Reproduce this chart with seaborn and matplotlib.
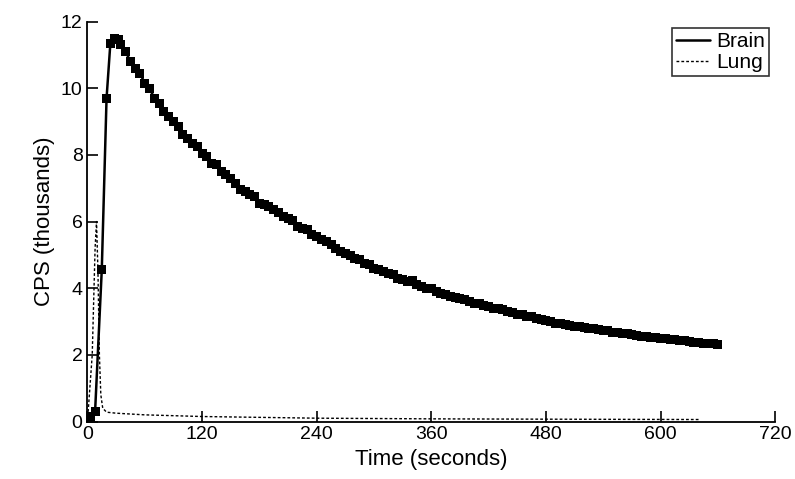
import matplotlib
matplotlib.use("Agg")
import matplotlib.pyplot as plt
import seaborn as sns
import pandas as pd

sns.set_style("ticks")
plt.rcParams['font.family'] = ['Liberation Sans', 'DejaVu Sans']
for k in ["text.color", "axes.labelcolor", "xtick.color", "ytick.color", "axes.edgecolor"]:
    plt.rcParams[k] = "black"

brain_t = [3, 8, 15, 20, 24, 28, 32] + list(range(35, 661, 5))
brain_v = [0.15, 0.3, 4.55, 9.7, 11.35, 11.5, 11.45,
 11.3, 11.1, 10.8, 10.6, 10.45, 10.15, 10.0, 9.7, 9.55, 9.3, 9.15, 9.0, 8.85, 8.6, 8.5, 8.35, 8.25, 8.05, 7.95, 7.75, 7.7, 7.5, 7.4, 7.3, 7.15, 6.95, 6.9, 6.8, 6.75, 6.55, 6.5, 6.45, 6.35, 6.28, 6.15, 6.1, 6.02, 5.85, 5.8, 5.75, 5.62, 5.55, 5.45, 5.4, 5.3, 5.18, 5.1, 5.05, 4.97, 4.9, 4.87, 4.75, 4.72, 4.6, 4.55, 4.5, 4.45, 4.4, 4.3, 4.25, 4.2, 4.22, 4.1, 4.05, 4.0, 3.98, 3.9, 3.85, 3.82, 3.76, 3.72, 3.68, 3.65, 3.6, 3.55, 3.53, 3.47, 3.45, 3.4, 3.38, 3.36, 3.3, 3.28, 3.22, 3.2, 3.15, 3.14, 3.08, 3.05, 3.02, 3.0, 2.95, 2.93, 2.9, 2.88, 2.86, 2.86, 2.82, 2.8, 2.78, 2.75, 2.72, 2.72, 2.68, 2.66, 2.64, 2.63, 2.6, 2.58, 2.56, 2.56, 2.53, 2.52, 2.5, 2.48, 2.47, 2.45, 2.43, 2.42, 2.4, 2.38, 2.38, 2.35, 2.33, 2.33, 2.3]
lung_t = [0, 5, 8, 9.5, 11, 12.5, 14, 16, 20, 30, 60, 120, 240, 360, 480, 640]
lung_v = [0, 2.0, 5.2, 6.0, 4.5, 2.0, 0.8, 0.4, 0.28, 0.25, 0.2, 0.15, 0.1, 0.08, 0.07, 0.06]

brain = pd.DataFrame({"t": brain_t, "v": brain_v})
lung = pd.DataFrame({"t": lung_t, "v": lung_v})

fig, ax = plt.subplots(figsize=(7.95, 4.79), dpi=100)
fig.subplots_adjust(left=0.11, right=0.975, bottom=0.12, top=0.955)
sns.lineplot(data=brain, x="t", y="v", ax=ax, color="black", lw=1.8, label="Brain")
sns.scatterplot(data=brain, x="t", y="v", ax=ax, color="black", marker="s", s=42, edgecolor="none", zorder=3)
sns.lineplot(data=lung, x="t", y="v", ax=ax, color="black", lw=1.0, ls=(0, (2, 1.5)), label="Lung")

ax.set_xlim(0, 720)
ax.set_ylim(0, 12)
ax.set_xticks(range(0, 721, 120))
ax.set_yticks(range(0, 13, 2))
ax.tick_params(direction="in", length=8, width=1.2, labelsize=14)
sns.despine(ax=ax)
for s in ["left", "bottom"]:
    ax.spines[s].set_linewidth(1.3)
ax.set_xlabel("Time (seconds)", fontsize=16)
ax.set_ylabel("CPS (thousands)", fontsize=16)
leg = ax.legend(loc="upper right", fontsize=15, frameon=True, fancybox=False,
                edgecolor="black", handlelength=1.6, handletextpad=0.3,
                borderaxespad=0.3, borderpad=0.2, labelspacing=0.1)
leg.get_frame().set_linewidth(1.2)
fig.savefig("out.png")
